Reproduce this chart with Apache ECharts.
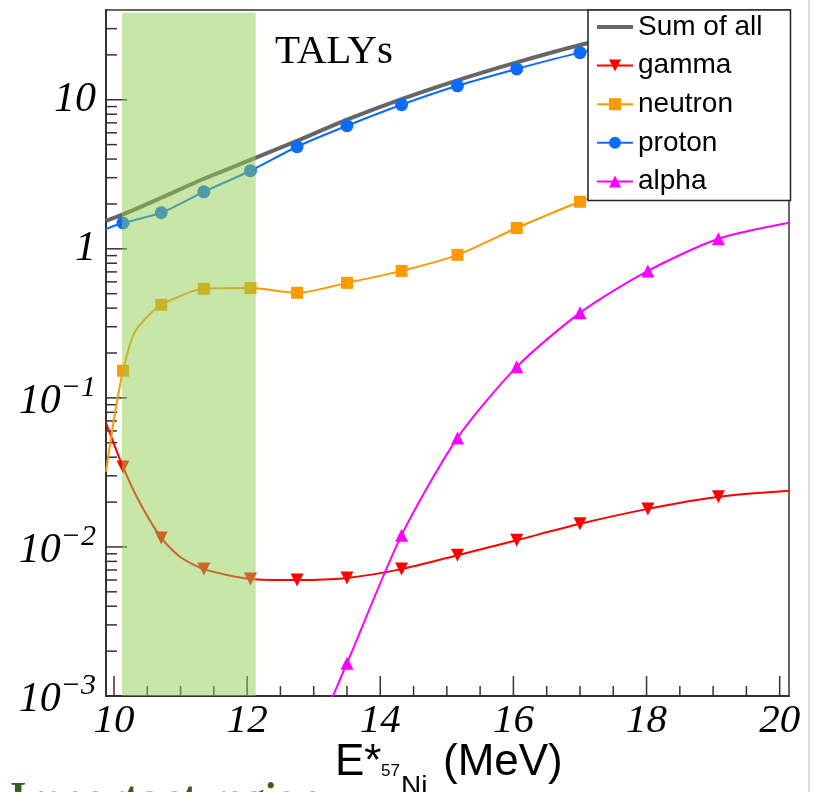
<!DOCTYPE html>
<html><head><meta charset="utf-8">
<script src="https://cdn.jsdelivr.net/npm/echarts@6/dist/echarts.min.js"></script>
<style>html,body{margin:0;padding:0;background:#fff}#c{width:816px;height:792px}</style>
</head><body><div id="c"></div>
<script>
// ---- data ----
const energies = [10.135, 10.71, 11.35, 12.05, 12.75, 13.5, 14.32, 15.16, 16.05, 17.0, 18.02, 19.08];
const gammaVals = [0.0344, 0.0115, 0.0071, 0.0061, 0.0060, 0.0062, 0.0071, 0.0088, 0.0111, 0.0143, 0.0180, 0.0217];
const neutronVals = [0.152, 0.421, 0.539, 0.545, 0.507, 0.591, 0.711, 0.911, 1.38, 2.07, 3.0, 4.2];
const protonVals = [1.49, 1.745, 2.41, 3.34, 4.84, 6.69, 9.26, 12.4, 16.1, 20.7, 25.5, 30.5];
const alphaEnergies = [13.5, 14.32, 15.16, 16.05, 17.0, 18.02, 19.08];
const alphaVals = [0.00166, 0.0120, 0.0539, 0.1615, 0.372, 0.711, 1.167];
// extra curve points without markers
const gammaCurve = [[9.88, 0.068], [10.39, 0.0197], [10.99, 0.0086], [20.14, 0.0238]];
const neutronCurve = [[9.88, 0.032], [10.0, 0.072], [10.3, 0.27], [10.5, 0.35], [20.14, 5.6]];
const protonCurve = [[9.88, 1.36], [20.14, 35]];
const alphaCurve = [[13.2, 0.00081], [20.14, 1.494]];
const sumEnergies = [9.88, 10.135, 10.71, 11.35, 12.05, 12.75, 13.5, 14.32, 15.16, 16.05, 17.0, 18.02, 19.08, 20.14];
const sumVals = [1.54, 1.70, 2.20, 2.95, 3.95, 5.3, 7.35, 10.1, 13.5, 17.8, 23.3, 29.5, 35.5, 39];
const bandEnergies = [10.12, 12.13];
const bandTop = 38.4;
const xRange = [9.88, 20.14];
const yRange = [0.001, 40];
const xMajorTicks = [10, 12, 14, 16, 18, 20];
const xMinorTicks = [10.5, 11, 11.5, 12.5, 13, 13.5, 14.5, 15, 15.5, 16.5, 17, 17.5, 18.5, 19, 19.5];
const yMajorTicks = [0.01, 0.1, 1, 10];
const yMinorTicks = [0.002, 0.003, 0.004, 0.005, 0.006, 0.007, 0.008, 0.009,
  0.02, 0.03, 0.04, 0.05, 0.06, 0.07, 0.08, 0.09,
  0.2, 0.3, 0.4, 0.5, 0.6, 0.7, 0.8, 0.9,
  2, 3, 4, 5, 6, 7, 8, 9, 20, 30];
const legendNames = ['Sum of all', 'gamma', 'neutron', 'proton', 'alpha'];

function build(xs, ys, curve) {
  const pts = xs.map((x, i) => ({ value: [x, ys[i]] }))
    .concat(curve.map(p => ({ value: p, symbol: 'none' })));
  pts.sort((a, b) => a.value[0] - b.value[0]);
  return pts;
}

const chart = echarts.init(document.getElementById('c'), null, { renderer: 'canvas' });
const serif = 'Liberation Serif';
const sans = 'Liberation Sans';

const xTickData = xMajorTicks.map(v => [v, yRange[0], 1]).concat(xMinorTicks.map(v => [v, yRange[0], 0]));
const yTickData = yMajorTicks.map(v => [xRange[0], v, 1]).concat(yMinorTicks.map(v => [xRange[0], v, 0]));

const lineCommon = { type: 'line', smooth: 0.25, showAllSymbol: true, z: 3, animation: false };

chart.setOption({
  animation: false,
  grid: { left: 106, top: 10, right: 27, bottom: 96, show: true, borderColor: '#666', borderWidth: 2, backgroundColor: 'transparent' },
  xAxis: {
    type: 'value', min: xRange[0], max: xRange[1],
    axisLine: { show: true, onZero: false, lineStyle: { color: '#333', width: 2 } },
    axisTick: { show: false }, splitLine: { show: false },
    axisLabel: {
      margin: 5, color: '#000', fontFamily: serif, fontStyle: 'italic', fontSize: 41,
      formatter: v => (Math.abs(v - Math.round(v)) < 1e-6 && Math.round(v) % 2 === 0) ? String(Math.round(v)) : ''
    }
  },
  yAxis: {
    type: 'log', logBase: 10, min: yRange[0], max: yRange[1],
    axisLine: { show: true, onZero: false, lineStyle: { color: '#333', width: 2 } },
    axisTick: { show: false }, minorTick: { show: false }, splitLine: { show: false },
    axisLabel: {
      margin: 10, color: '#000',
      formatter: v => {
        const l = Math.log10(v), e = Math.round(l);
        if (Math.abs(l - e) > 1e-6) return '';
        if (e === 0) return '{b|1}';
        if (e === 1) return '{b|10}';
        return '{bp|10}{s|\u2212' + (-e) + '}';
      },
      rich: {
        b: { fontFamily: serif, fontStyle: 'italic', fontSize: 42, color: '#000' },
        bp: { fontFamily: serif, fontStyle: 'italic', fontSize: 42, color: '#000', padding: [8, 0, 0, 0] },
        s: { fontFamily: serif, fontStyle: 'italic', fontSize: 30, color: '#000', verticalAlign: 'top' }
      }
    }
  },
  legend: {
    data: [
      { name: 'Sum of all', lineStyle: { width: 4, color: '#666666' } },
      { name: 'gamma', lineStyle: { width: 2 } },
      { name: 'neutron', lineStyle: { width: 2 } },
      { name: 'proton', lineStyle: { width: 2 } },
      { name: 'alpha', lineStyle: { width: 2 } }
    ],
    orient: 'vertical', left: 588, top: 10,
    padding: [3, 28, 5, 7], itemGap: 10.6, itemWidth: 36, itemHeight: 15,
    backgroundColor: '#fff', borderColor: '#222', borderWidth: 1.5, selectedMode: false, z: 10,
    textStyle: { fontFamily: sans, fontSize: 28, lineHeight: 28, color: '#000' }
  },
  graphic: [
    { type: 'text', x: 275, y: 52, style: { text: 'TALYs', font: '41px "Liberation Serif"', fill: '#000', verticalAlign: 'middle' } },
    { type: 'text', x: 335, y: 763, style: { text: 'E*', font: '44px "Liberation Sans"', fill: '#000', verticalAlign: 'middle' } },
    { type: 'text', x: 381, y: 771, style: { text: '57', font: '17px "Liberation Sans"', fill: '#000', verticalAlign: 'middle' } },
    { type: 'text', x: 401, y: 787, style: { text: 'Ni', font: '28px "Liberation Sans"', fill: '#000', verticalAlign: 'middle' } },
    { type: 'text', x: 443, y: 763, style: { text: '(MeV)', font: '44px "Liberation Sans"', fill: '#000', verticalAlign: 'middle' } },
    { type: 'text', x: 10, y: 800, style: { text: 'Important region', font: 'bold 42px "Liberation Serif"', fill: '#3d5c1f', verticalAlign: 'middle' } },
    { type: 'line', shape: { x1: 809, y1: 0, x2: 809, y2: 792 }, style: { stroke: '#ddd', lineWidth: 2 } }
  ],
  series: [
    {
      type: 'custom', name: 'xticks', coordinateSystem: 'cartesian2d', silent: true, z: 2,
      data: xTickData, encode: { x: 0, y: 1 },
      renderItem: (params, api) => {
        const p = api.coord([api.value(0), api.value(1)]);
        const len = api.value(2) ? 20 : 10;
        return { type: 'line', shape: { x1: p[0], y1: p[1], x2: p[0], y2: p[1] - len }, style: { stroke: '#333', lineWidth: 1.5 } };
      }
    },
    {
      type: 'custom', name: 'yticks', coordinateSystem: 'cartesian2d', silent: true, z: 2,
      data: yTickData, encode: { x: 0, y: 1 },
      renderItem: (params, api) => {
        const p = api.coord([api.value(0), api.value(1)]);
        const len = api.value(2) ? 21 : 11;
        return { type: 'line', shape: { x1: p[0], y1: p[1], x2: p[0] + len, y2: p[1] }, style: { stroke: '#333', lineWidth: 1.5 } };
      }
    },
    Object.assign({}, lineCommon, {
      name: 'gamma', data: build(energies, gammaVals, gammaCurve),
      symbol: 'path://M0,0L10,0L5,9Z', symbolSize: 13,
      lineStyle: { color: '#ff0000', width: 2 }, itemStyle: { color: '#ff0000' }
    }),
    Object.assign({}, lineCommon, {
      name: 'neutron', data: build(energies, neutronVals, neutronCurve),
      symbol: 'rect', symbolSize: 12,
      lineStyle: { color: '#ff9900', width: 2 }, itemStyle: { color: '#ff9900' }
    }),
    Object.assign({}, lineCommon, {
      name: 'proton', data: build(energies, protonVals, protonCurve),
      symbol: 'circle', symbolSize: 13,
      lineStyle: { color: '#0a6bff', width: 2 }, itemStyle: { color: '#0a6bff' }
    }),
    Object.assign({}, lineCommon, {
      name: 'alpha', data: build(alphaEnergies, alphaVals, alphaCurve),
      symbol: 'triangle', symbolSize: 13,
      lineStyle: { color: '#ff00ff', width: 2 }, itemStyle: { color: '#ff00ff' }
    }),
    Object.assign({}, lineCommon, {
      name: 'Sum of all', data: sumEnergies.map((x, i) => [x, sumVals[i]]),
      symbol: 'none', showSymbol: false,
      lineStyle: { color: '#666666', width: 4 }, itemStyle: { color: 'rgba(0,0,0,0)' }
    }),
    {
      type: 'custom', name: 'band', coordinateSystem: 'cartesian2d', silent: true, z: 5,
      data: [[bandEnergies[0], bandTop, bandEnergies[1], yRange[0]]], encode: { x: [0, 2], y: [1, 3] },
      renderItem: (params, api) => {
        const p0 = api.coord([api.value(0), api.value(1)]);
        const p1 = api.coord([api.value(2), api.value(3)]);
        return { type: 'rect', shape: { x: p0[0], y: p0[1], width: p1[0] - p0[0], height: p1[1] - p0[1] }, style: { fill: 'rgba(145,205,81,0.5)' } };
      }
    }
  ]
});
</script>
</body></html>
